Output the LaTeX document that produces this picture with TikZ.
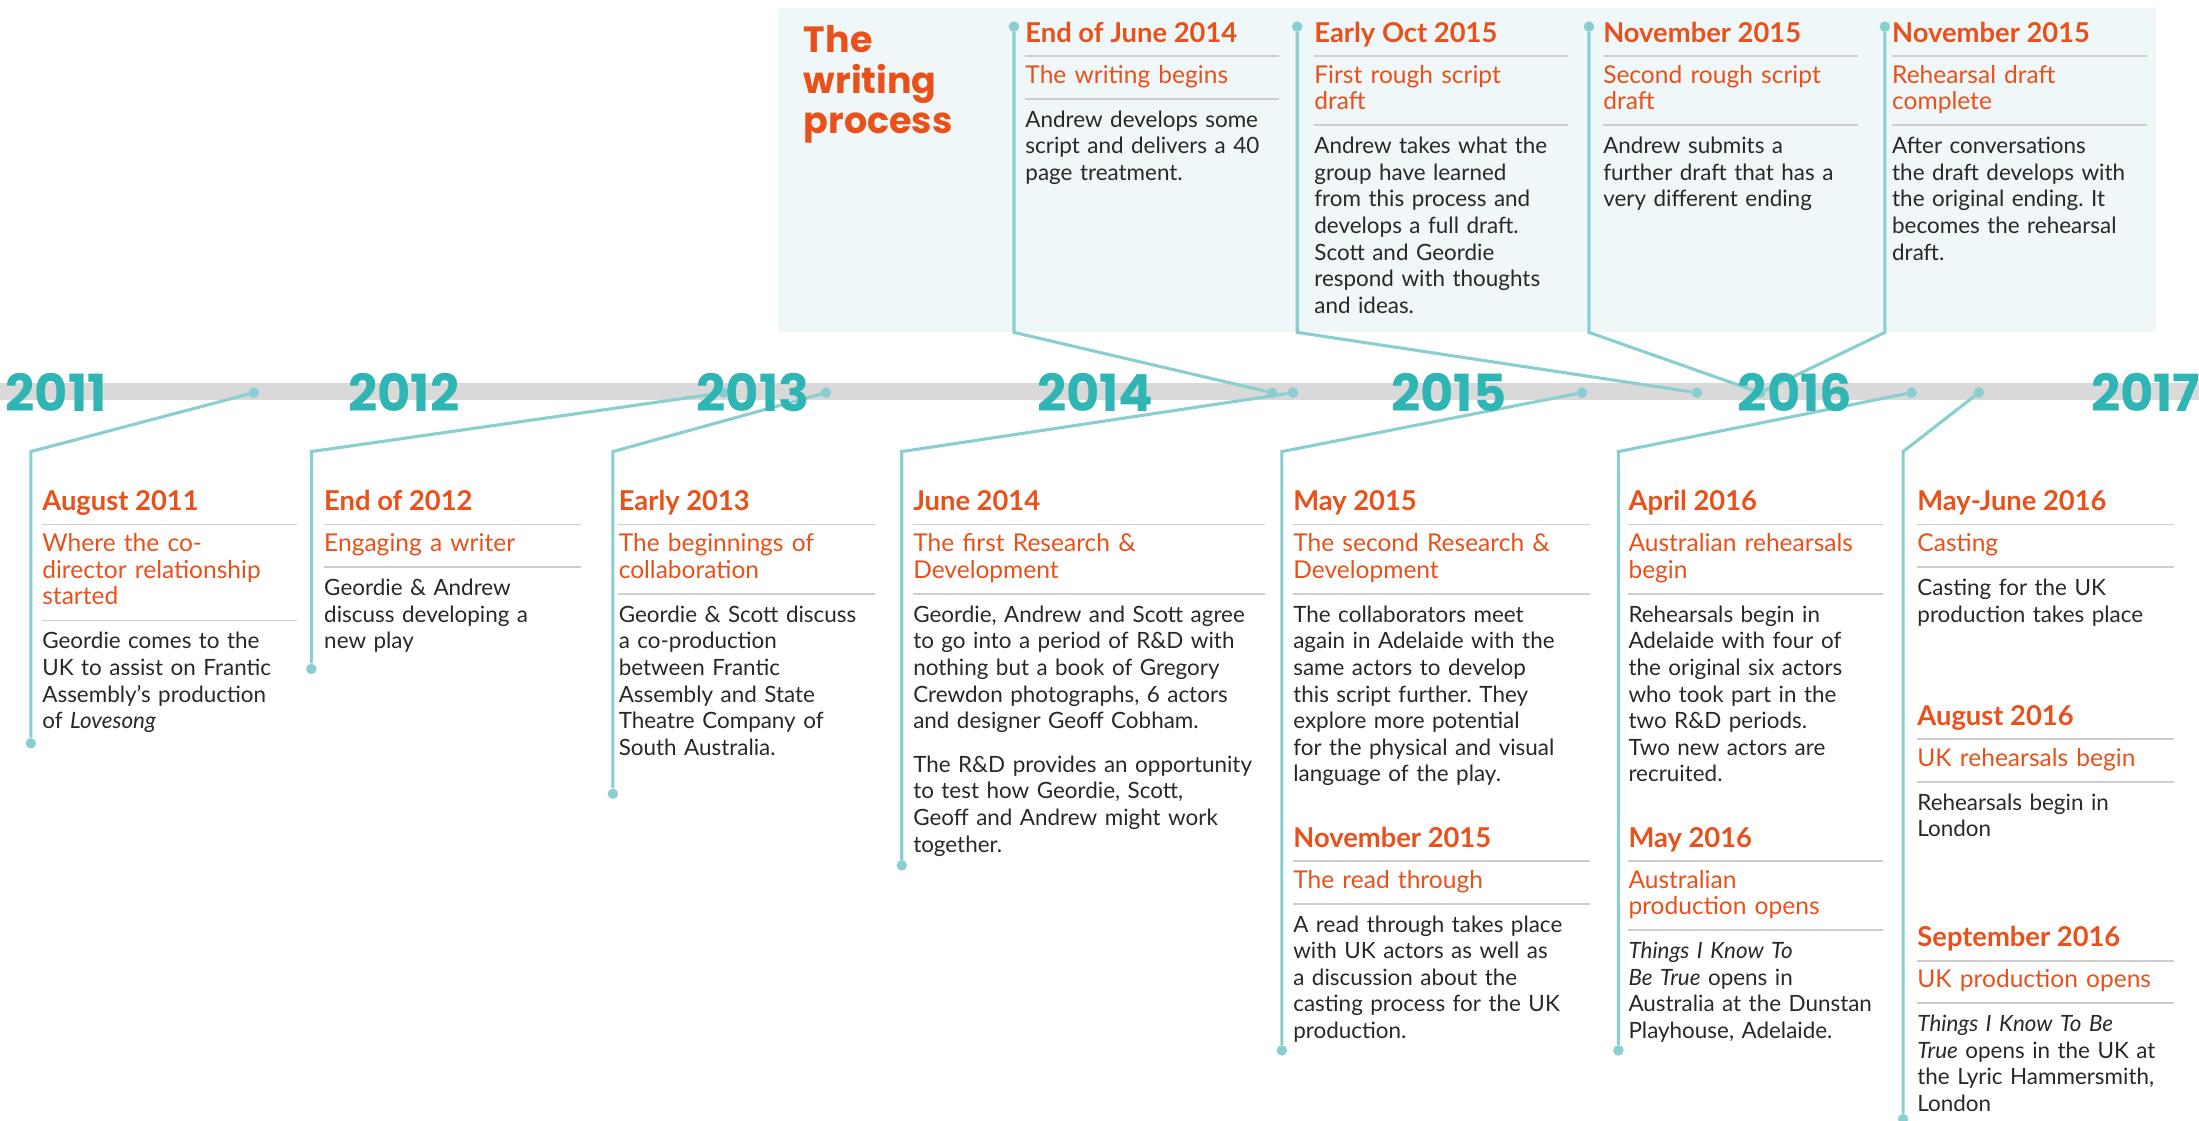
\documentclass[tikz,border=0pt]{standalone}
\usepackage{fontspec}
\setmainfont{Lato}
\newfontfamily\yearfont{Poppins}
\usetikzlibrary{positioning}
\setlength{\parindent}{0pt}
\frenchspacing

\definecolor{tlorange}{RGB}{233,80,26}
\definecolor{tlyear}{RGB}{47,182,180}
\definecolor{tlteal}{RGB}{137,207,207}
\definecolor{tlbar}{RGB}{217,217,217}
\definecolor{tlrule}{RGB}{205,205,205}
\definecolor{tlpanel}{RGB}{239,247,249}
\definecolor{tlink}{RGB}{40,40,40}

\tikzset{
  evtitle/.style={font=\fontsize{19.5}{19}\selectfont\bfseries, text=tlorange,
    anchor=base west, inner sep=0pt},
  evsub/.style={font=\fontsize{17.5}{19}\selectfont, text=tlorange,
    text width=270pt, align=left, inner sep=0pt},
  evbody/.style={font=\fontsize{16}{19}\selectfont, text=tlink,
    text width=270pt, align=left, inner sep=0pt},
  evrule/.style={draw=tlrule, line width=1.3pt},
  tline/.style={draw=tlteal, line width=2.2pt},
  tdot/.style={circle, fill=tlteal, inner sep=0pt, minimum size=7.5pt},
  yearlbl/.style={font=\yearfont\fontsize{36.5}{36}\selectfont\bfseries,
    text=tlyear, inner sep=0pt}
}

% one timeline entry: name, x, title baseline, rule width, title, subtitle, text
\newcommand{\tlentry}[7]{%
  \node[evtitle] (#1-t) at (#2,#3) {#5};
  \draw[evrule] ([yshift=-10pt]#1-t.base west) -- ++(#4,0);
  \node[evsub, below right=15.7pt and 0pt of #1-t.base west] (#1-s) {\strut #6\strut};
  \draw[evrule] ([yshift=-5.3pt]#1-s.south west) -- ++(#4,0);
  \node[evbody, below right=12pt and 0pt of #1-s.south west] (#1-b) {\strut #7\strut};
}

\begin{document}
\begin{tikzpicture}[x=1pt, y=-1pt]
  \useasboundingbox (0,0) rectangle (1568,799);
  \fill[tlpanel] (555,6) rectangle (1537,237);% writing process panel
  \fill[tlbar] (0,273) rectangle (1568,285);% the timeline bar

  % connectors below the bar
  \foreach \n/\xa/\xk/\ya in {1/181/22/530, 2/516/222/477, 3/589/437/566,
      4/922/643/617, 5/1128/914/749, 6/1363/1154/749, 7/1411/1357/798}{
    \node[tdot] (top\n) at (\xa,280) {};
    \coordinate (knee\n) at (\xk,322);
    \node[tdot] (end\n) at (\xk,\ya) {};
    \draw[tline] (end\n) -- (knee\n) -- (top\n);}
  % connectors above the bar
  \foreach \n/\xv/\xa in {1/723/907, 2/925/1210, 3/1133/1255, 4/1344/1255}{
    \node[tdot] (wtop\n) at (\xv,19) {};
    \coordinate (wknee\n) at (\xv,237);
    \node[tdot] (wbar\n) at (\xa,280) {};
    \draw[tline] (wtop\n) -- (wknee\n) -- (wbar\n);}

  % years
  \foreach \yr/\xc in {2011/40, 2012/288, 2013/537, 2014/781, 2015/1033,
      2016/1280, 2017/1530}{
    \node[yearlbl] (y\yr) at (\xc,280) {\yr};}

  \node[font=\yearfont\fontsize{26}{29}\selectfont\bfseries, text=tlorange,
    align=left, anchor=north west, inner sep=0pt] (wtitle) at (573,18)
    {The\\writing\\process};

  % the writing process
  \tlentry{wjun14}{731}{30}{181}{End of June 2014}{The writing begins}
    {Andrew develops some\\script and delivers a 40\\page treatment.}
  \tlentry{woct15}{937}{30}{181}{Early Oct 2015}{First rough script\\draft}
    {Andrew takes what the\\group have learned\\from this process and\\develops a full draft.\\Scott and Geordie\\respond with thoughts\\and ideas.}
  \tlentry{wnov15}{1143}{30}{182}{November 2015}{Second rough script\\draft}
    {Andrew submits a\\further draft that has a\\very different ending}
  \tlentry{wnov15b}{1349}{30}{182}{November 2015}{Rehearsal draft\\complete}
    {After conversations\\the draft develops with\\the original ending. It\\becomes the rehearsal\\draft.}

  % events below the bar
  \tlentry{aug11}{30}{364}{182}{August 2011}{Where the co-\\director relationship\\started}
    {Geordie comes to the\\UK to assist on Frantic\\Assembly’s production\\of \textit{Lovesong}}
  \tlentry{end12}{231}{364}{183}{End of 2012}{Engaging a writer}
    {Geordie \& Andrew\\discuss developing a\\new play}
  \tlentry{ear13}{441}{364}{183}{Early 2013}{The beginnings of\\collaboration}
    {Geordie \& Scott discuss\\a co-production\\between Frantic\\Assembly and State\\Theatre Company of\\South Australia.}
  \tlentry{jun14}{651}{364}{251}{June 2014}{The first Research \&\\Development}
    {Geordie, Andrew and Scott agree\\to go into a period of R\&D with\\nothing but a book of Gregory\\Crewdon photographs, 6 actors\\and designer Geoff Cobham.\\[12pt]The R\&D provides an opportunity\\to test how Geordie, Scott,\\Geoff and Andrew might work\\together.}
  \tlentry{may15}{922}{364}{212}{May 2015}{The second Research \&\\Development}
    {The collaborators meet\\again in Adelaide with the\\same actors to develop\\this script further. They\\explore more potential\\for the physical and visual\\language of the play.}
  \tlentry{nov15}{922}{604}{212}{November 2015}{The read through}
    {A read through takes place\\with UK actors as well as\\a discussion about the\\casting process for the UK\\production.}
  \tlentry{apr16}{1161}{364}{182}{April 2016}{Australian rehearsals\\begin}
    {Rehearsals begin in\\Adelaide with four of\\the original six actors\\who took part in the\\two R\&D periods.\\Two new actors are\\recruited.}
  \tlentry{may16}{1161}{604}{182}{May 2016}{Australian\\production opens}
    {\textit{Things I Know To}\\\textit{Be True} opens in\\Australia at the Dunstan\\Playhouse, Adelaide.}
  \tlentry{jun16}{1367}{364}{183}{May-June 2016}{Casting}
    {Casting for the UK\\production takes place}
  \tlentry{aug16}{1367}{517}{183}{August 2016}{UK rehearsals begin}
    {Rehearsals begin in\\London}
  \tlentry{sep16}{1367}{675}{183}{September 2016}{UK production opens}
    {\textit{Things I Know To Be}\\\textit{True} opens in the UK at\\the Lyric Hammersmith,\\London}
\end{tikzpicture}
\end{document}
